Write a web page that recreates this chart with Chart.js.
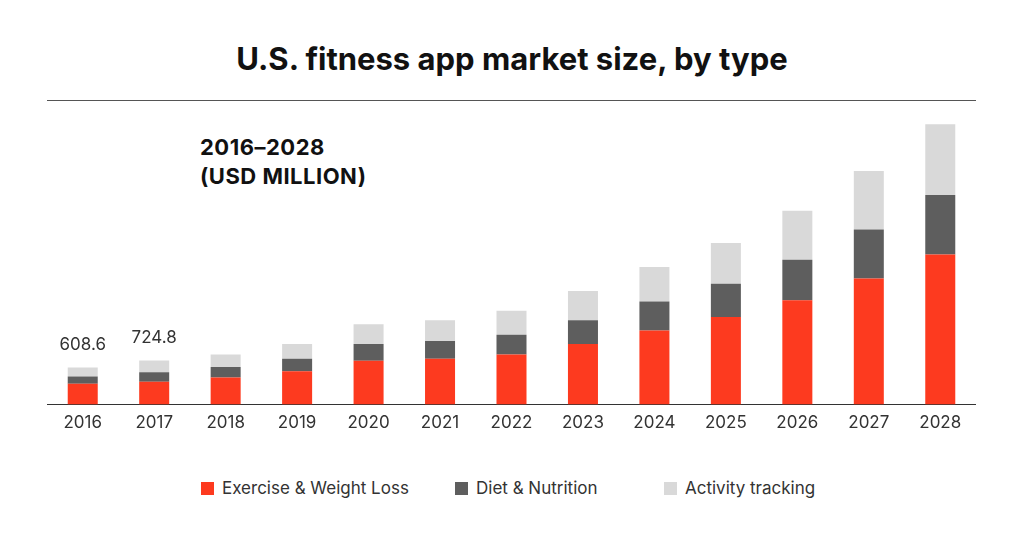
<!DOCTYPE html>
<html><head><meta charset="utf-8">
<script src="https://cdn.jsdelivr.net/npm/chart.js@4"></script>
<style>
body{margin:0;width:1024px;height:536px;background:#fff;font-family:Inter,"Noto Sans",sans-serif;position:relative;overflow:hidden}
#title{position:absolute;top:40px;left:0;width:1024px;text-align:center;font-size:31px;font-weight:700;color:#111}
#rule{position:absolute;top:100px;left:47px;width:929px;height:1px;background:#555}
#sub{position:absolute;top:133px;left:200px;font-size:22px;font-weight:700;color:#111;line-height:29px;letter-spacing:0.5px}
#cw{position:absolute;top:101px;left:47px;width:929px;height:340px}
.lg{position:absolute;top:478px;font-size:17px;color:#333;display:flex;align-items:center}
.lg span{display:inline-block;width:13px;height:13px;margin-right:8px}
</style></head><body>
<div id="title">U.S. fitness app market size, by type</div>
<div id="rule"></div>
<div id="sub">2016–2028<br>(USD MILLION)</div>
<div id="cw"><canvas id="c"></canvas></div>
<div class="lg" style="left:201px"><span style="background:#fd3a1f"></span>Exercise &amp; Weight Loss</div>
<div class="lg" style="left:455px"><span style="background:#5e5e5e"></span>Diet &amp; Nutrition</div>
<div class="lg" style="left:664px"><span style="background:#d9d9d9"></span>Activity tracking</div>
<script>
const years=['2016','2017','2018','2019','2020','2021','2022','2023','2024','2025','2026','2027','2028'];
const exercise=[342,376,445,547,718,752,821,992,1214,1436,1710,2069,2462];
const diet=[120,154,171,205,274,291,325,393,479,547,667,804,975];
const activity=[147,195,205,240,325,342,393,479,564,667,804,958,1163];
const totalLabels=['608.6','724.8','','','','','','','','','','',''];
const topLabels={id:'tl',afterDatasetsDraw(ch){const c=ch.ctx;const m=ch.getDatasetMeta(2);c.save();c.font='17px Inter, "Noto Sans", sans-serif';c.fillStyle='#333';c.textAlign='center';c.textBaseline='bottom';
m.data.forEach((b,i)=>{if(totalLabels[i])c.fillText(totalLabels[i],b.x,b.y-14);});c.restore();}};
new Chart(document.getElementById('c'),{type:'bar',
data:{labels:years,datasets:[
{label:'Exercise & Weight Loss',data:exercise,backgroundColor:'#fd3a1f'},
{label:'Diet & Nutrition',data:diet,backgroundColor:'#5e5e5e'},
{label:'Activity tracking',data:activity,backgroundColor:'#d9d9d9'}]},
options:{responsive:true,maintainAspectRatio:false,animation:false,
layout:{padding:0},
datasets:{bar:{barPercentage:0.42,categoryPercentage:1}},
plugins:{legend:{display:false},tooltip:{enabled:false}},
scales:{x:{stacked:true,grid:{display:false,drawTicks:false},border:{color:'#333',width:1},
ticks:{color:'#333',font:{size:17,family:'Inter'},padding:8}},
y:{stacked:true,display:false,min:0,max:4980}}},plugins:[topLabels]});
</script></body></html>
